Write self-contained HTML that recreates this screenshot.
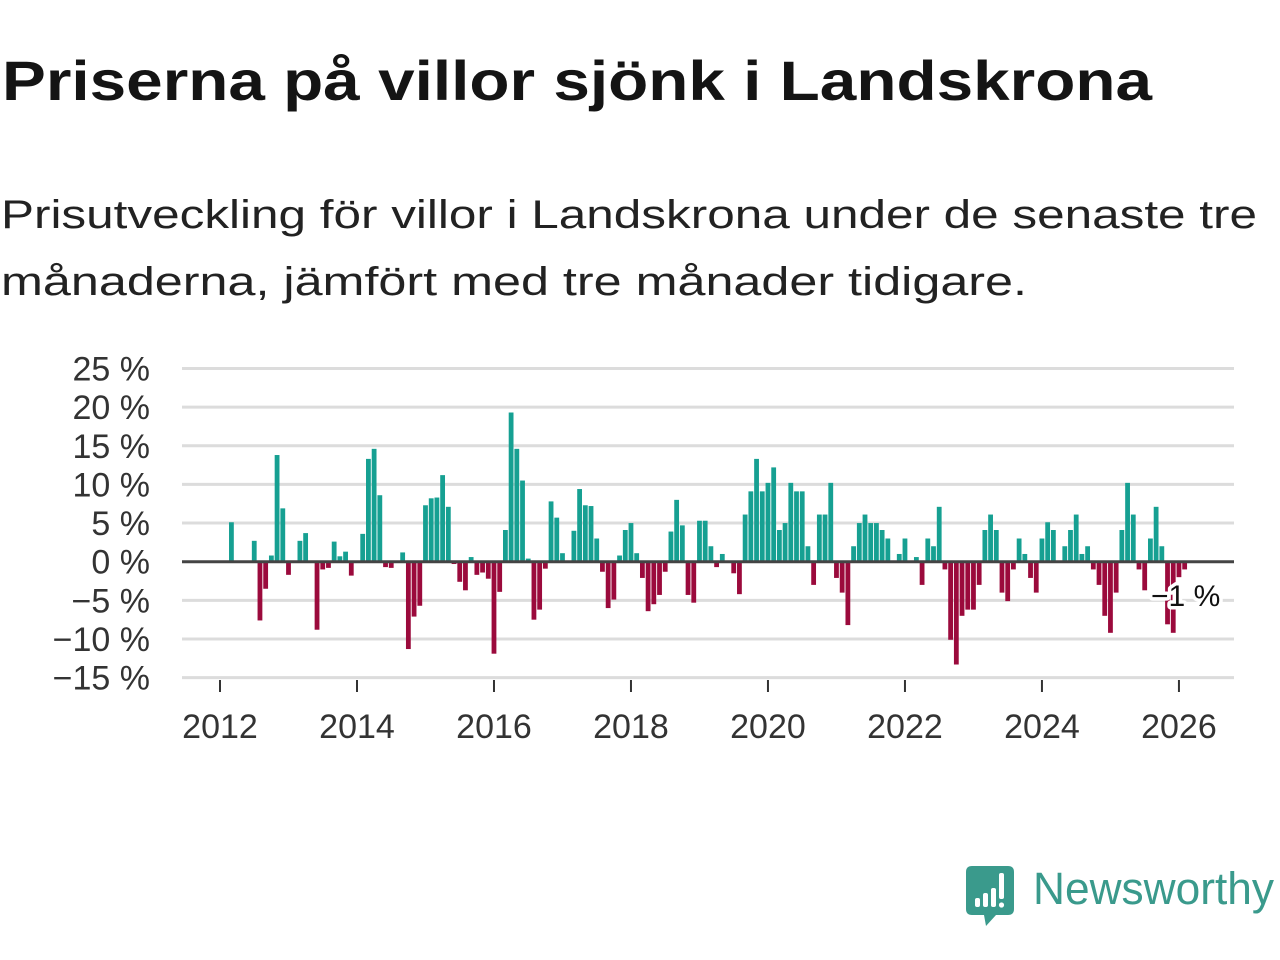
<!DOCTYPE html>
<html><head><meta charset="utf-8"><style>
html,body{margin:0;padding:0;background:#fff;}
svg{display:block;}
</style></head><body>
<svg id="chart" width="1280" height="960" xmlns="http://www.w3.org/2000/svg" font-family="'Liberation Sans', 'DejaVu Sans', sans-serif">
<text x="2" y="100" font-size="56" font-weight="bold" fill="#141414" textLength="1150" lengthAdjust="spacingAndGlyphs">Priserna på villor sjönk i Landskrona</text>
<text x="1" y="228" font-size="40" fill="#222" textLength="1256" lengthAdjust="spacingAndGlyphs">Prisutveckling för villor i Landskrona under de senaste tre</text>
<text x="1" y="295" font-size="40" fill="#222" textLength="1026" lengthAdjust="spacingAndGlyphs">månaderna, jämfört med tre månader tidigare.</text>
<g id="grid"></g>
<g id="yaxis"></g>
<g id="xaxis"></g>
<g id="bars"></g>
<g id="zero"></g>
<g id="annot"></g>
<g>
<path d="M972 866 H1008 Q1014 866 1014 872 V909 Q1014 915 1008 915 H996 L986 926 L984 915 H972 Q966 915 966 909 V872 Q966 866 972 866 Z" fill="#3a9a8c"/>
<rect x="975" y="898" width="5" height="9" rx="2" fill="#fff"/>
<rect x="983" y="893" width="5" height="14" rx="2" fill="#fff"/>
<rect x="991" y="888" width="5" height="19" rx="2" fill="#fff"/>
<rect x="999" y="873" width="5" height="26" rx="2" fill="#fff"/>
<circle cx="1001.5" cy="905" r="2.6" fill="#fff"/>
<text x="1033" y="904" font-size="45" fill="#3a9a8c" textLength="241" lengthAdjust="spacingAndGlyphs">Newsworthy</text>
</g>
</svg>
<script>
const startYear = 2012;
const values = [0,0,5.1,0,0,0,2.7,-7.6,-3.5,0.8,13.8,6.9,
-1.7,0,2.7,3.7,0,-8.8,-1.0,-0.8,2.6,0.7,1.3,-1.8,
0,3.6,13.3,14.6,8.6,-0.7,-0.8,0,1.2,-11.3,-7.1,-5.7,
7.3,8.2,8.3,11.2,7.1,-0.3,-2.6,-3.7,0.6,-1.7,-1.4,-2.2,
-11.9,-3.9,4.1,19.3,14.6,10.5,0.4,-7.5,-6.2,-0.9,7.8,5.7,
1.1,0,4.0,9.4,7.3,7.2,3.0,-1.3,-6.0,-4.9,0.8,4.1,
5.0,1.1,-2.1,-6.4,-5.5,-4.3,-1.3,3.9,8.0,4.7,-4.3,-5.3,
5.3,5.3,2.0,-0.7,1.0,0,-1.5,-4.2,6.1,9.1,13.3,9.1,
10.2,12.2,4.1,5.0,10.2,9.1,9.1,2.0,-3.0,6.1,6.1,10.2,
-2.1,-4.0,-8.2,2.0,5.0,6.1,5.0,5.0,4.1,3.0,0,1.0,
3.0,0,0.6,-3.0,3.0,2.0,7.1,-1.0,-10.1,-13.3,-7.0,-6.2,
-6.2,-3.0,4.1,6.1,4.1,-4.0,-5.1,-1.0,3.0,1.0,-2.1,-4.0,
3.0,5.1,4.1,0,2.0,4.1,6.1,1.0,2.0,-1.0,-3.0,-7.0,
-9.2,-4.0,4.1,10.2,6.1,-1.0,-3.7,3.0,7.1,2.0,-8.1,-9.2,
-2.0,-1.0];
const yTicks = [25,20,15,10,5,0,-5,-10,-15];
const xTickYears = [2012,2014,2016,2018,2020,2022,2024,2026];
const lastLabel = "\u22121 %";

const NS = "http://www.w3.org/2000/svg";
const X0 = 220, PX_PER_MONTH = 5.708;
const Y0 = 561.7, PX_PER_PCT = 7.73;
function xScale(monthIndex){ return X0 + monthIndex * PX_PER_MONTH; }
function yScale(v){ return Y0 - v * PX_PER_PCT; }
function mk(tag, attrs, parent){ const e = document.createElementNS(NS, tag); for (const k in attrs) e.setAttribute(k, attrs[k]); parent.appendChild(e); return e; }

const grid = document.getElementById('grid'), yaxis = document.getElementById('yaxis');
yTicks.forEach(t => {
  if (t !== 0) {
    const l = mk('line', {x1:182, x2:1234, y1:yScale(t), y2:yScale(t), stroke:'#dcdcdc', 'stroke-width':3}, grid);
    
    
  }
  const tx = mk('text', {x:150, y:yScale(t)+12, 'text-anchor':'end', 'font-size':34, fill:'#333'}, yaxis);
  tx.textContent = (t < 0 ? '\u2212' + (-t) : t) + ' %';
  
  
});

const xaxis = document.getElementById('xaxis');
xTickYears.forEach(yr => {
  const x = xScale((yr - startYear) * 12);
  const tk = mk('line', {x1:x, x2:x, y1:680, y2:692, stroke:'#333', 'stroke-width':2}, xaxis);
  
  
  const tx = mk('text', {x:x, y:738, 'text-anchor':'middle', 'font-size':34, fill:'#333'}, xaxis);
  tx.textContent = yr;
  
  
});

const bars = document.getElementById('bars');
values.forEach((v, i) => {
  if (v === 0) return;
  const x = xScale(i) - 2.4;
  const y = Math.min(yScale(v), Y0), h = Math.abs(yScale(v) - Y0);
  const r = mk('rect', {x:x, y:y, width:4.8, height:h, fill: v > 0 ? '#16a092' : '#9b0a3c'}, bars);
  
  
});

const zero = document.getElementById('zero');
const zl = mk('line', {x1:182, x2:1234, y1:Y0, y2:Y0, stroke:'#444', 'stroke-width':3}, zero);



const annot = document.getElementById('annot');
const li = values.length - 1;
const lt = mk('text', {x:xScale(li)+1, y:606, 'text-anchor':'middle', 'font-size':30, fill:'#111', stroke:'#fff', 'stroke-width':7, 'paint-order':'stroke', 'stroke-linejoin':'round'}, annot);
lt.textContent = lastLabel;


</script>
</body></html>
